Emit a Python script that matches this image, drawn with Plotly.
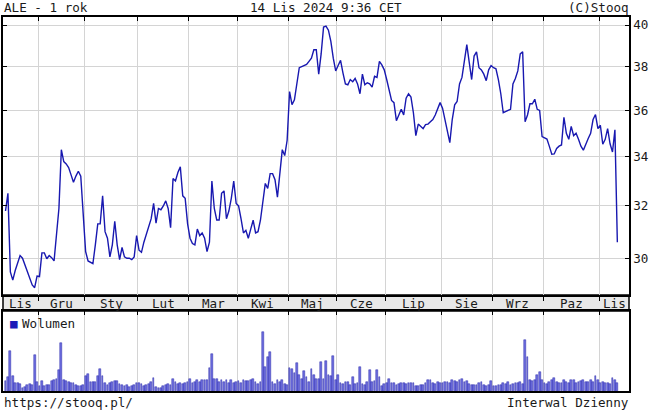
import math
import pandas as pd
import plotly.graph_objects as go

# ---------------- text ----------------
TITLE_LEFT = "ALE - 1 rok"
TITLE_CENTER = "14 Lis 2024 9:36 CET"
TITLE_RIGHT = "(C)Stooq"
FOOT_LEFT = "https://stooq.pl/"
FOOT_RIGHT = "Interwal Dzienny"
VOLUME_LABEL = "Wolumen"
MONTH_NAMES = ["Sty", "Lut", "Mar", "Kwi", "Maj", "Cze", "Lip", "Sie", "Wrz", "Paz", "Lis", "Gru"]
PRICE_TICKS = [30, 32, 34, 36, 38, 40]

# ---------------- trading calendar (GPW) ----------------
START, END = "2023-11-13", "2024-11-14"
HOLIDAYS = ["2023-12-25", "2023-12-26", "2024-01-01", "2024-03-29", "2024-04-01",
            "2024-05-01", "2024-05-03", "2024-05-30", "2024-08-15", "2024-11-01", "2024-11-11"]

# ---------------- close prices (PLN), by month ----------------
close_2023_11 = [31.8, 32.5, 29.5, 29.2, 29.55, 29.85, 30.1, 30.0, 29.75, 29.45, 29.2, 29.03, 28.93, 29.35]
close_2023_12 = [29.33, 30.2, 30.2, 29.98, 30.1, 30.02, 29.9, 31.05, 31.9, 34.3, 33.8, 33.7, 33.55, 33.25,
                 32.95, 33.2, 33.4, 33.2, 31.8]
close_2024_01 = [30.25, 29.9, 29.85, 29.8, 30.5, 31.3, 31.3, 32.4, 31.0, 30.75, 30.05, 30.5, 31.4, 30.5,
                 29.95, 30.4, 30.05, 30.0, 30.0, 29.95, 30.05, 30.85]
close_2024_02 = [30.3, 30.22, 30.6, 30.9, 31.2, 31.5, 32.1, 31.33, 31.9, 31.85, 32.0, 32.2, 31.9, 31.15,
                 33.1, 33.0, 33.35, 33.58, 32.4, 32.3, 31.3]
close_2024_03 = [30.75, 30.55, 30.5, 31.1, 30.85, 30.95, 30.75, 30.25, 30.6, 33.0, 31.9, 31.45, 31.45, 32.5,
                 32.6, 31.5, 31.8, 32.3, 33.0, 32.1]
close_2024_04 = [32.0, 31.5, 30.95, 31.05, 30.75, 31.1, 31.44, 30.95, 31.0, 31.44, 32.1, 32.9, 32.7, 33.3,
                 33.3, 33.05, 32.35, 33.4, 34.3, 34.05, 34.7]
close_2024_05 = [36.85, 36.26, 36.48, 37.2, 37.95, 38.0, 38.05, 38.1, 38.25, 38.4, 38.8, 38.8, 37.65, 38.6,
                 39.9, 39.95, 39.75, 39.2, 38.4, 37.8]
close_2024_06 = [38.05, 38.3, 37.7, 37.2, 37.16, 37.4, 37.3, 37.45, 37.2, 36.75, 37.65, 37.16, 37.25, 37.2,
                 37.05, 37.55, 37.5, 38.25, 38.08, 37.85]
close_2024_07 = [37.4, 36.9, 36.45, 36.35, 35.55, 35.8, 36.05, 35.8, 36.55, 36.75, 36.6, 35.9, 34.9, 35.4,
                 35.3, 35.2, 35.38, 35.4, 35.5, 35.6, 35.8, 36.1, 36.35]
close_2024_08 = [36.1, 35.6, 35.1, 34.6, 35.6, 36.25, 36.4, 37.2, 37.5, 38.3, 39.05, 38.2, 37.4, 38.5,
                 38.7, 37.95, 37.85, 37.65, 37.35, 37.85, 38.05]
close_2024_09 = [37.95, 37.9, 37.4, 36.75, 35.9, 35.95, 36.0, 36.05, 37.2, 37.45, 37.8, 38.6, 38.7, 35.5,
                 35.8, 36.3, 36.3, 36.5, 36.05, 36.0, 34.86]
close_2024_10 = [34.8, 34.75, 34.44, 34.11, 34.12, 34.35, 34.45, 34.5, 35.7, 35.0, 34.74, 35.3, 34.9, 35.0,
                 34.74, 34.45, 34.28, 34.55, 34.78, 35.0, 35.6, 35.82, 35.2]
close_2024_11 = [35.35, 34.53, 34.74, 35.2, 34.55, 34.2, 35.15, 30.6]

# ---------------- volume (thousand shares), by month ----------------
vol_2023_11 = [970, 1400, 3970, 1500, 800, 830, 730, 300, 400, 630, 730, 630, 3570, 900]
vol_2023_12 = [500, 970, 500, 570, 630, 970, 1100, 1230, 2070, 4730, 1070, 1000, 900, 830, 830, 570, 500, 500, 570]
vol_2024_01 = [1500, 1630, 900, 900, 900, 1500, 2130, 1470, 830, 570, 830, 900, 970, 970, 730, 630, 500, 570,
               400, 500, 570, 800]
vol_2024_02 = [830, 730, 500, 570, 730, 900, 1300, 400, 300, 300, 500, 630, 730, 630, 1170, 900, 730, 830,
               730, 830, 900]
vol_2024_03 = [1230, 830, 900, 1070, 900, 1070, 1070, 1070, 2300, 3670, 1230, 1230, 900, 1070, 900, 1070,
               800, 1070, 830, 900]
vol_2024_04 = [970, 830, 1070, 1000, 970, 1070, 1230, 900, 730, 900, 5830, 2400, 3400, 3900, 900, 730, 1070,
               900, 1070, 730, 570]
vol_2024_05 = [2230, 2170, 1730, 2730, 1570, 1230, 1970, 1400, 900, 2170, 1570, 1230, 1230, 2900, 1230, 2970,
               1570, 1500, 3470, 1070]
vol_2024_06 = [1570, 830, 730, 900, 900, 630, 1400, 730, 830, 2400, 730, 630, 900, 2070, 900, 970, 2070, 1400,
               500, 730]
vol_2024_07 = [800, 1230, 800, 830, 630, 730, 830, 800, 730, 830, 800, 830, 500, 500, 570, 630, 830, 1130,
               1070, 830, 730, 900, 830]
vol_2024_08 = [830, 900, 900, 830, 1070, 970, 900, 1070, 1230, 900, 970, 730, 630, 630, 630, 830, 900, 630,
               500, 630, 1000]
vol_2024_09 = [500, 500, 570, 630, 830, 730, 900, 630, 730, 830, 830, 900, 730, 5070, 3330, 1070, 970, 1070,
               1570, 1830, 1130]
vol_2024_10 = [800, 730, 900, 1070, 1300, 900, 800, 830, 1070, 900, 800, 1070, 1070, 830, 900, 970, 1070, 900,
               900, 1070, 900, 1470, 1070]
vol_2024_11 = [830, 900, 800, 830, 730, 1300, 1130, 800]

close = (close_2023_11 + close_2023_12 + close_2024_01 + close_2024_02 + close_2024_03 + close_2024_04 +
         close_2024_05 + close_2024_06 + close_2024_07 + close_2024_08 + close_2024_09 + close_2024_10 +
         close_2024_11)
volume = (vol_2023_11 + vol_2023_12 + vol_2024_01 + vol_2024_02 + vol_2024_03 + vol_2024_04 + vol_2024_05 +
          vol_2024_06 + vol_2024_07 + vol_2024_08 + vol_2024_09 + vol_2024_10 + vol_2024_11)

dates = [d for d in pd.bdate_range(START, END) if d.strftime("%Y-%m-%d") not in HOLIDAYS]
n = min(len(dates), len(close), len(volume))
dates, close, volume = dates[:n], close[:n], volume[:n]
idx = list(range(n))

# month boundaries (between last session of a month and first of the next)
bounds = [i - 0.5 for i in range(1, n) if dates[i].month != dates[i - 1].month]
X_RANGE = [-1.03, n + 3.8]
edges = [X_RANGE[0]] + bounds + [X_RANGE[1]]
month_ids = [dates[0].month] + [dates[int(b + 0.5)].month for b in bounds]

# ---------------- geometry / style ----------------
W, H = 651, 411
L, R = 3, 629
P_TOP, P_BOT = 17, 295
V_TOP, V_BOT = 311, 391
FONT = "DejaVu Sans Mono"
FS = 12.6
INK = "#1a1a1a"
GRID = "#d4d4d4"
LINE_BLUE = "#1818b0"


def fx(p):
    return p / W


def fy(p):
    return 1 - p / H


fig = go.Figure()
fig.add_trace(go.Scatter(x=idx, y=close, mode="lines", line=dict(color=LINE_BLUE, width=1.4),
                         xaxis="x", yaxis="y", showlegend=False, hoverinfo="skip"))
fig.add_trace(go.Bar(x=idx, y=volume, width=0.72, xaxis="x2", yaxis="y2", showlegend=False,
                     marker=dict(color="#6e6ee0", line=dict(color="#2828a8", width=0.5)), hoverinfo="skip"))
fig.add_trace(go.Scatter(x=[], y=[], xaxis="x3", yaxis="y", showlegend=False))

axis_common = dict(range=X_RANGE, tickvals=bounds, showticklabels=False, zeroline=False,
                   tickcolor="#000", ticklen=4, tickwidth=1)

fig.update_layout(
    width=W, height=H, margin=dict(l=0, r=0, t=0, b=0),
    paper_bgcolor="white", plot_bgcolor="white",
    font=dict(family=FONT, size=FS, color=INK),
    bargap=0,
    xaxis=dict(domain=[fx(L), fx(R)], anchor="y", ticks="outside", showgrid=True, gridcolor=GRID,
               gridwidth=1, showline=True, linecolor="#000", linewidth=1.5, mirror=True, **axis_common),
    xaxis3=dict(overlaying="x", anchor="y", side="top", ticks="inside", showgrid=False,
                showline=False, **axis_common),
    yaxis=dict(domain=[fy(P_BOT), fy(P_TOP)], anchor="x", type="log", side="right",
               range=[math.log10(28.67), math.log10(40.40)], tickvals=PRICE_TICKS,
               ticktext=[str(t) for t in PRICE_TICKS], ticks="inside", ticklen=4, tickcolor="#000",
               showline=True, linecolor="#000", linewidth=1.5, mirror="ticks", showgrid=True,
               gridcolor=GRID, gridwidth=1, zeroline=False, tickfont=dict(family=FONT, size=FS, color=INK)),
    xaxis2=dict(domain=[fx(L), fx(R)], anchor="y2", side="top", ticks="inside", showgrid=True,
                gridcolor=GRID, gridwidth=1, showline=True, linecolor="#000", linewidth=1.5, mirror=True,
                **axis_common),
    yaxis2=dict(domain=[fy(V_BOT), fy(V_TOP)], anchor="x2", range=[0, max(volume) * 1.355],
                showticklabels=False, showgrid=False, showline=True, linecolor="#000", linewidth=1.5,
                mirror=True, ticks="", zeroline=False),
)

# month band between the panels
fig.add_shape(type="rect", xref="paper", yref="paper", x0=fx(L), x1=fx(R), y0=fy(V_TOP), y1=fy(P_BOT),
              fillcolor="#e8e8e8", line=dict(color="#000", width=1.5), layer="below")

annotations = []
for k, m in enumerate(month_ids):
    annotations.append(dict(x=(edges[k] + edges[k + 1]) / 2, xref="x", y=fy(303.5), yref="paper",
                            text=MONTH_NAMES[m - 1], showarrow=False, xanchor="center", yanchor="middle",
                            font=dict(family=FONT, size=FS, color=INK)))

for text, x, anchor in [(TITLE_LEFT, fx(2), "left"), (TITLE_CENTER, 0.5, "center"), (TITLE_RIGHT, fx(631), "right")]:
    annotations.append(dict(x=x, y=fy(8), xref="paper", yref="paper", text=text, showarrow=False,
                            xanchor=anchor, yanchor="middle", font=dict(family=FONT, size=FS, color=INK)))
for text, x, anchor in [(FOOT_LEFT, fx(2), "left"), (FOOT_RIGHT, fx(631), "right")]:
    annotations.append(dict(x=x, y=fy(402), xref="paper", yref="paper", text=text, showarrow=False,
                            xanchor=anchor, yanchor="middle", font=dict(family=FONT, size=FS, color=INK)))

# volume legend: blue square + label
annotations.append(dict(x=fx(8), y=fy(323), xref="paper", yref="paper", text="■", showarrow=False,
                        xanchor="left", yanchor="middle", font=dict(family=FONT, size=FS, color="#1c1cb8")))
annotations.append(dict(x=fx(20), y=fy(323), xref="paper", yref="paper", text=VOLUME_LABEL, showarrow=False,
                        xanchor="left", yanchor="middle", font=dict(family=FONT, size=FS, color=INK)))

fig.update_layout(annotations=annotations)
fig.write_html("out.html", config={"displayModeBar": False},
               post_script="document.body.style.margin='0';document.body.style.overflow='hidden';")
